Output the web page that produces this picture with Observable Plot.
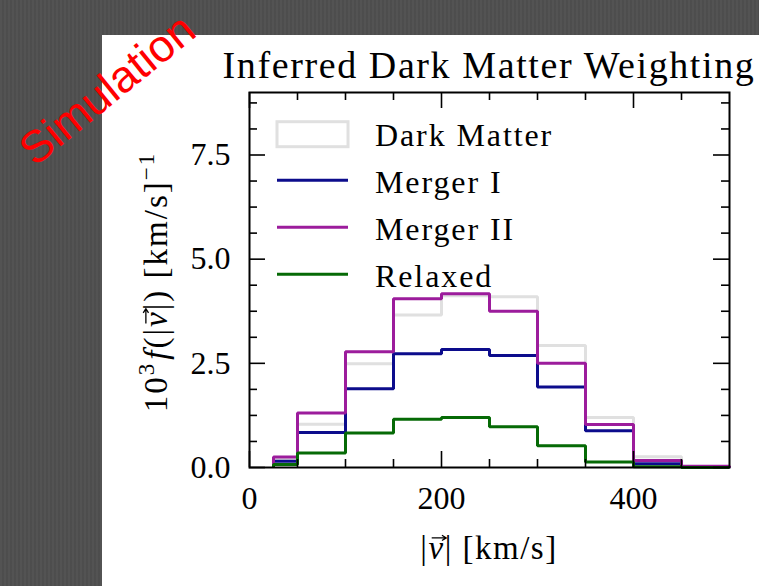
<!DOCTYPE html>
<html>
<head>
<meta charset="utf-8">
<script src="https://cdn.jsdelivr.net/npm/d3@7"></script>
<script src="https://cdn.jsdelivr.net/npm/@observablehq/plot@0.6"></script>
<style>
  html, body { margin: 0; padding: 0; }
  body {
    width: 759px; height: 586px; overflow: hidden; position: relative;
    background-color: #4f4f4f;
    background-image: repeating-linear-gradient(90deg, rgba(255,255,255,0.025) 0 2px, rgba(0,0,0,0.025) 2px 4px);
  }
  #panel { position: absolute; left: 102px; top: 35px; width: 657px; height: 551px; background: #fff; }
  #overlay { position: absolute; left: 0; top: 0; pointer-events: none; }
</style>
</head>
<body>
<div id="panel"></div>
<svg id="overlay" width="759" height="586"></svg>
<script>
// Histogram bin edges (km/s) and normalised speed distributions (x10^3 per km/s)
const binEdges = [25, 50, 100, 150, 200, 250, 300, 350, 400, 450, 500];
const seriesNames = ["Dark Matter", "Merger I", "Merger II", "Relaxed"];
const darkMatter = [0.20, 1.04, 2.49, 3.66, 4.12, 4.10, 2.93, 1.20, 0.26, 0.02];
const mergerI    = [0.15, 0.84, 1.89, 2.73, 2.83, 2.69, 1.93, 0.88, 0.09, 0.01];
const mergerII   = [0.25, 1.31, 2.78, 4.05, 4.17, 3.75, 2.50, 1.03, 0.17, 0.03];
const relaxed    = [0.07, 0.35, 0.83, 1.16, 1.20, 0.98, 0.52, 0.13, 0.02, 0.00];
const seriesColors = ["#e0e0e0", "#0c0c8c", "#9c1c9c", "#066a06"];

const xMajorTicks = [0, 200, 400];
const xMinorTicks = [50, 100, 150, 250, 300, 350, 450];
const yMajorTicks = [0, 2.5, 5, 7.5];
const yMinorTicks = [0.625, 1.25, 1.875, 3.125, 3.75, 4.375, 5.625, 6.25, 6.875, 8.125, 8.75];

// Layout of the plotting frame
const W = 657, H = 551, mL = 147, mR = 30, mT = 57, mB = 119;
const frameW = W - mL - mR, frameH = H - mT - mB;
const majorLen = 16, minorLen = 8;

// Outline of a step histogram: rise at the first edge, drop at the last edge
function stepPoints(values) {
  const last = binEdges.length - 1;
  const pts = [{x: binEdges[0], y: 0}];
  values.forEach((v, i) => pts.push({x: binEdges[i], y: v}));
  pts.push({x: binEdges[last], y: values[values.length - 1]});
  pts.push({x: binEdges[last], y: 0});
  return pts;
}

const seriesValues = [darkMatter, mergerI, mergerII, relaxed];
const histMarks = seriesValues.map((vals, i) =>
  Plot.line(stepPoints(vals), {
    x: "x", y: "y", curve: "step-after",
    stroke: seriesColors[i], strokeWidth: 3,
    strokeLinejoin: "miter", strokeLinecap: "butt"
  })
);

// Inward-pointing ticks on all four sides of the frame
function inwardTicks(xs, ys, len) {
  const tick = {stroke: "#000", strokeWidth: 1.6};
  return [
    Plot.ruleX(xs, {...tick, x: d => d, insetTop: frameH - len}),
    Plot.ruleX(xs, {...tick, x: d => d, insetBottom: frameH - len}),
    Plot.ruleY(ys, {...tick, y: d => d, insetRight: frameW - len}),
    Plot.ruleY(ys, {...tick, y: d => d, insetLeft: frameW - len})
  ];
}

const chart = Plot.plot({
  width: W, height: H,
  marginLeft: mL, marginRight: mR, marginTop: mT, marginBottom: mB,
  x: {domain: [0, 500]},
  y: {domain: [0, 9]},
  style: {fontFamily: '"Liberation Serif", serif', fontSize: "32px", color: "#000", background: "transparent", overflow: "visible"},
  marks: [
    ...histMarks,
    ...inwardTicks(xMajorTicks, yMajorTicks, majorLen),
    ...inwardTicks(xMinorTicks, yMinorTicks, minorLen),
    Plot.frame({stroke: "#000", strokeWidth: 2}),
    Plot.axisX(xMajorTicks, {anchor: "bottom", tickSize: 0, tickPadding: 19, label: null, tickFormat: d => String(d)}),
    Plot.axisY(yMajorTicks, {anchor: "left", tickSize: 0, tickPadding: 19, label: null, tickFormat: d => d.toFixed(1)})
  ]
});
document.getElementById("panel").appendChild(chart);

const svg = d3.select(chart);

// Title
svg.append("text")
  .attr("x", mL + frameW / 2).attr("y", 42.5)
  .attr("text-anchor", "middle")
  .style("font-size", "38px").style("letter-spacing", "1.6px")
  .text("Inferred Dark Matter Weighting");

// Small vector arrow above a glyph of a text element
function addVecArrow(group, textSel, charIndex, size) {
  const node = textSel.node();
  const p = node.getStartPositionOfChar(charIndex);
  const e = node.getEndPositionOfChar(charIndex);
  const w = e.x - p.x;
  const y = p.y - size * 0.64;
  const x1 = p.x + w * 0.2, x2 = p.x + w * 1.1;
  group.append("path")
    .attr("d", `M${x1},${y}H${x2}M${x2 - size * 0.13},${y - size * 0.08}L${x2},${y}L${x2 - size * 0.13},${y + size * 0.08}`)
    .attr("stroke", "#000").attr("stroke-width", 1.3).attr("fill", "none");
}

// Y axis label: 10^3 f(|v|) [km/s]^-1
const gy = svg.append("g").attr("transform", "translate(65,247) rotate(-90)");
const ty = gy.append("text").attr("text-anchor", "middle").style("font-size", "33px").style("letter-spacing", "2px");
ty.append("tspan").text("10");
ty.append("tspan").attr("dy", -13).style("font-size", "23px").text("3");
ty.append("tspan").attr("dy", 13).attr("dx", 2).style("font-style", "italic").text("f");
ty.append("tspan").text("(|");
ty.append("tspan").style("font-style", "italic").text("v");
ty.append("tspan").text("|) [km/s]");
ty.append("tspan").attr("dy", -13).style("font-size", "23px").text("\u22121");
addVecArrow(gy, ty, ty.node().textContent.indexOf("v"), 33);

// X axis label: |v| [km/s]
const gx = svg.append("g").attr("transform", `translate(${mL + frameW / 2},524)`);
const tx = gx.append("text").attr("text-anchor", "middle").style("font-size", "33px").style("letter-spacing", "1.5px");
tx.append("tspan").text("|");
tx.append("tspan").style("font-style", "italic").text("v");
tx.append("tspan").text("| [km/s]");
addVecArrow(gx, tx, 1, 33);

// Legend
const legend = svg.append("g");
const legendX = 175, legendSample = 71, legendTextX = 273, legendBase = 110.7, legendGap = 47;
seriesNames.forEach((name, i) => {
  const base = legendBase + i * legendGap;
  if (i === 0) {
    legend.append("rect")
      .attr("x", legendX).attr("y", base - 24).attr("width", legendSample).attr("height", 25)
      .attr("fill", "none").attr("stroke", seriesColors[i]).attr("stroke-width", 3);
  } else {
    legend.append("line")
      .attr("x1", legendX).attr("x2", legendX + legendSample)
      .attr("y1", base - 12.5).attr("y2", base - 12.5)
      .attr("stroke", seriesColors[i]).attr("stroke-width", 3);
  }
  legend.append("text")
    .attr("x", legendTextX).attr("y", base)
    .attr("text-anchor", "start")
    .style("font-size", "32px").style("letter-spacing", "1.9px")
    .text(name);
});

// Diagonal "Simulation" stamp across the top-left corner
d3.select("#overlay").append("text")
  .attr("transform", "translate(107,89) rotate(-39)")
  .attr("text-anchor", "middle").attr("dominant-baseline", "central")
  .style("font-family", '"Liberation Sans", Arial, sans-serif')
  .style("font-size", "45px").style("fill", "#ff0000")
  .text("Simulation");
</script>
</body>
</html>
